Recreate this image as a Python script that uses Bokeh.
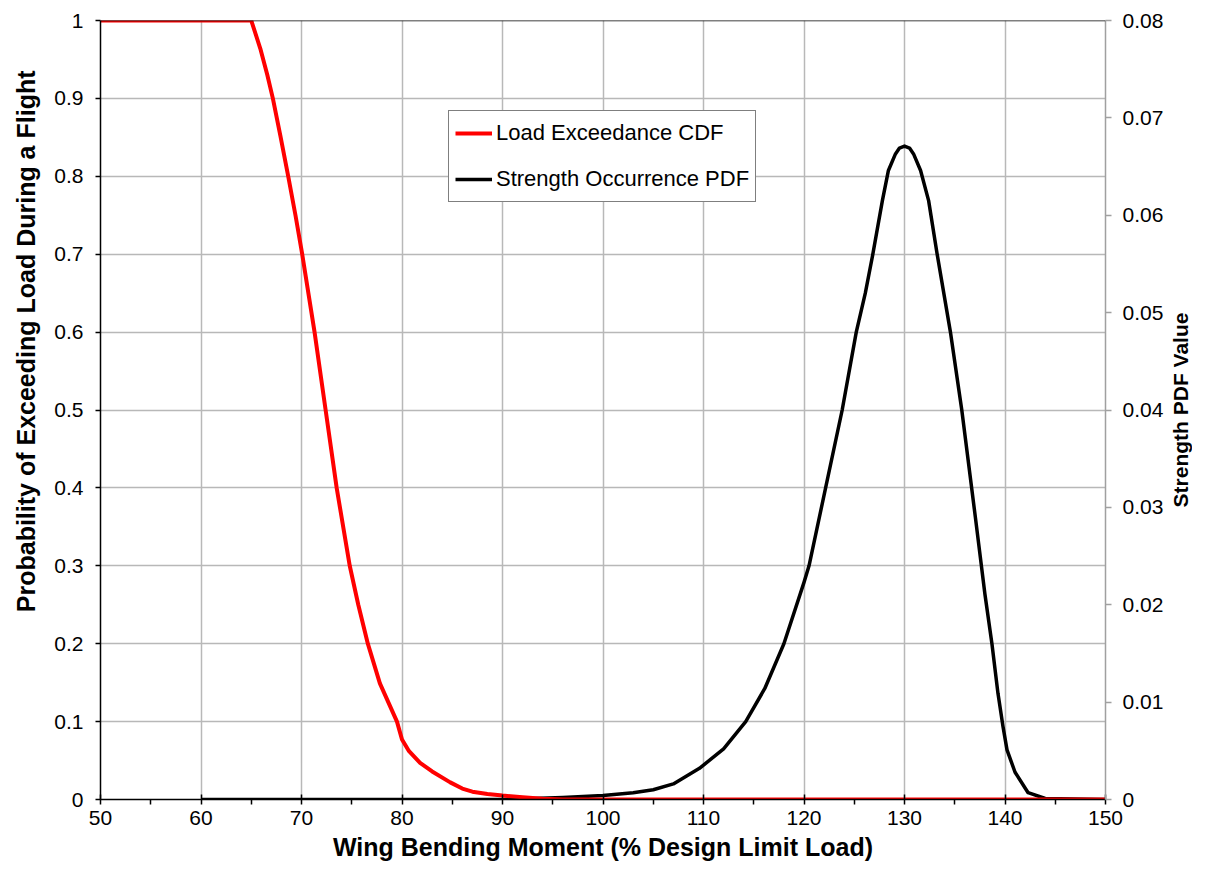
from bokeh.plotting import figure
from bokeh.layouts import row
from bokeh.models import Range1d, LinearAxis, FixedTicker, Legend, LegendItem, Span, Title
from bokeh.embed import file_html
from bokeh.resources import INLINE

# ---- data ----
cdf_x = [50, 65, 65.9, 66.6, 67.15, 67.9, 68.68, 69.4, 70.07, 71.3, 72.4, 73.5,
         74.8, 75.65, 76.6, 77.8, 79.5, 80, 80.7, 81.8, 83, 84.8, 86, 87, 88.5, 90,
         92, 94, 96, 150]
cdf_y = [1.0, 1.0, 0.964, 0.93, 0.90, 0.852, 0.80, 0.75, 0.70, 0.60, 0.50, 0.40,
         0.30, 0.25, 0.20, 0.149, 0.10, 0.077, 0.062, 0.047, 0.036, 0.022, 0.014, 0.010,
         0.007, 0.005, 0.003, 0.001, 0.0, 0.0]

pdf_x = [60, 90, 93, 96, 100, 103, 105, 107, 109.6, 112, 114.2, 116.1, 118, 120, 120.5,
         122.15, 123.8, 125.2, 126.1, 126.85, 127.8, 128.4, 129.1, 129.5, 130, 130.5,
         130.9, 131.6, 132.4, 133.25, 134.57, 135.7, 137.05, 138.0, 138.7, 139.3, 139.8,
         140.2, 141.0, 142.3, 144, 150]
pdf_y = [0, 0, 0.0001, 0.0002, 0.0004, 0.0007, 0.001, 0.0016, 0.0032, 0.0052, 0.008,
         0.0114, 0.016, 0.0223, 0.024, 0.032, 0.040, 0.048, 0.052, 0.056, 0.0615, 0.0646,
         0.0663, 0.0669, 0.0671, 0.0669, 0.0663, 0.0646, 0.0615, 0.056, 0.048, 0.040,
         0.029, 0.0211, 0.016, 0.0109, 0.0075, 0.0051, 0.0028, 0.0007, 0.0001, 0.0]

x_ticks = [50, 60, 70, 80, 90, 100, 110, 120, 130, 140, 150]
x_minor = [55, 65, 75, 85, 95, 105, 115, 125, 135, 145]
left_ticks = [0, 0.1, 0.2, 0.3, 0.4, 0.5, 0.6, 0.7, 0.8, 0.9, 1]
left_labels = ["0", "0.1", "0.2", "0.3", "0.4", "0.5", "0.6", "0.7", "0.8", "0.9", "1"]
right_ticks = [0, 0.01, 0.02, 0.03, 0.04, 0.05, 0.06, 0.07, 0.08]
right_labels = ["0", "0.01", "0.02", "0.03", "0.04", "0.05", "0.06", "0.07", "0.08"]

FONT = "Liberation Sans"
GRID = "#b8b8b8"
TOP, BOTTOM = 20, 65

p = figure(width=1166, height=864, output_backend="svg", toolbar_location=None,
           x_range=Range1d(50, 150), y_range=Range1d(0, 1),
           min_border_left=100, min_border_right=59, min_border_top=TOP,
           min_border_bottom=BOTTOM)
p.extra_y_ranges = {"pdf": Range1d(0, 0.08)}
p.outline_line_color = None
p.background_fill_color = "white"

# axes
xa = p.xaxis[0]
xa.ticker = FixedTicker(ticks=x_ticks, minor_ticks=x_minor)
xa.axis_label = "Wing Bending Moment (% Design Limit Load)"
ya = p.yaxis[0]
ya.ticker = FixedTicker(ticks=left_ticks)
ya.major_label_overrides = {t: l for t, l in zip(left_ticks, left_labels)}

ra = LinearAxis(y_range_name="pdf", ticker=FixedTicker(ticks=right_ticks))
ra.major_label_overrides = {t: l for t, l in zip(right_ticks, right_labels)}
p.add_layout(ra, "right")

for ax in (xa, ya, ra):
    ax.major_label_text_font = FONT
    ax.major_label_text_font_size = "21px"
    ax.major_label_text_color = "black"
    ax.axis_label_text_font = FONT
    ax.axis_label_text_font_style = "bold"
    ax.axis_label_text_color = "black"
    ax.axis_line_width = 1.5
    ax.major_tick_line_width = 1.5
    ax.minor_tick_line_width = 1.5

xa.axis_label_text_font_size = "25px"
xa.major_tick_in = 5
xa.major_tick_out = 5
xa.minor_tick_in = 0
xa.minor_tick_out = 5
xa.major_label_standoff = 6
xa.axis_label_standoff = 5

ya.major_tick_in = 0
ya.major_tick_out = 5
ya.minor_tick_line_color = None
ya.major_label_standoff = 12

ra.major_tick_in = 0
ra.major_tick_out = 6
ra.minor_tick_line_color = None
ra.major_label_standoff = 11
ra.axis_line_color = "#a0a0a0"
ra.major_tick_line_color = "#a0a0a0"

# grid
p.xgrid.ticker = FixedTicker(ticks=x_ticks)
p.ygrid.ticker = FixedTicker(ticks=left_ticks)
p.xgrid.grid_line_color = GRID
p.ygrid.grid_line_color = GRID
p.xgrid.grid_line_width = 1.5
p.ygrid.grid_line_width = 1.5

p.add_layout(Span(location=1, dimension="width", line_color="black", line_width=1.5))

# lines
r_pdf = p.line(pdf_x, pdf_y, y_range_name="pdf", line_color="black", line_width=3.5,
               line_join="round")
r_cdf = p.line(cdf_x, cdf_y, line_color="#ff0000", line_width=4, line_join="round")

legend = Legend(items=[LegendItem(label="Load Exceedance CDF", renderers=[r_cdf]),
                       LegendItem(label="Strength Occurrence PDF", renderers=[r_pdf])],
                location=(348, 597))
legend.label_text_font = FONT
legend.label_text_font_size = "22px"
legend.label_text_color = "black"
legend.glyph_width = 37
legend.glyph_height = 20
legend.label_height = 32
legend.label_standoff = 4
legend.spacing = 14
legend.padding = 6
legend.margin = 0
legend.border_line_color = "black"
legend.border_line_width = 1.5
legend.background_fill_color = "white"
legend.background_fill_alpha = 1
p.add_layout(legend, "center")

# left axis title, placed toward the top as in the reference
p.add_layout(Title(text="Probability of Exceeding Load During a Flight", align="right",
                   offset=50, standoff=20, vertical_align="top", text_font=FONT,
                   text_font_style="bold", text_font_size="25px", text_color="black"), "left")

# narrow strip on the right that carries the right-axis title (reads bottom to top)
tf = figure(width=26, height=864, output_backend="svg", toolbar_location=None,
            x_axis_type=None, y_axis_type=None, min_border_left=0, min_border_right=0,
            min_border_top=TOP, min_border_bottom=BOTTOM)
tf.outline_line_color = None
tf.grid.visible = False
tf.add_layout(Title(text="Strength PDF Value", align="center", standoff=0,
                    text_font=FONT, text_font_style="bold", text_font_size="21px",
                    text_color="black"), "left")

layout = row(p, tf)
open("out.html", "w").write(file_html(layout, INLINE))
